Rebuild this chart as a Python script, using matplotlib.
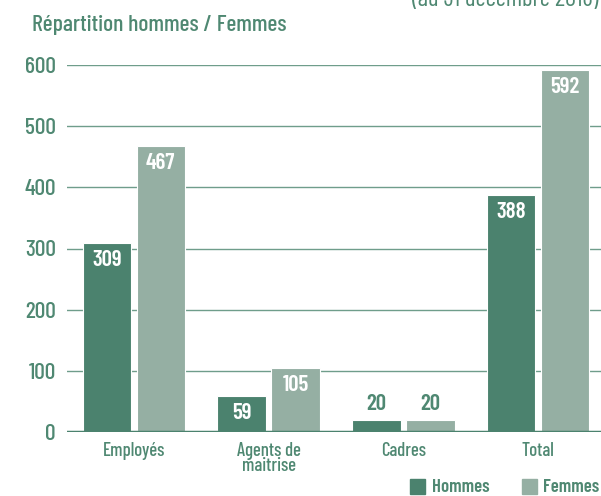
import matplotlib
matplotlib.use('Agg')
import matplotlib.pyplot as plt
from matplotlib.patches import Rectangle

# data
categories = ['Employés', 'Agents de\nmaitrise', 'Cadres', 'Total']
hommes = [309, 59, 20, 388]
femmes = [467, 105, 20, 592]
yticks = [0, 100, 200, 300, 400, 500, 600]

c_h = '#4b826e'
c_f = '#95afa3'
c_txt = '#4f8872'
c_grid = '#6f9d8b'

plt.rcParams['font.family'] = ['Barlow Condensed', 'DejaVu Sans']

fig = plt.figure(figsize=(6.01, 4.96), dpi=100)
ax = fig.add_axes([67/601, 64/496, 534/601, 367/496])

x = range(len(categories))
w = 0.36
xh = [i - 0.2 for i in x]
xf = [i + 0.2 for i in x]

for y in yticks[1:]:
    ax.axhline(y, color=c_grid, lw=1.0, zorder=1)
ax.axhline(0, color=c_h, lw=2.5, zorder=4)

ax.bar(xh, hommes, w, color=c_h, edgecolor='white', linewidth=0.8, zorder=3)
ax.bar(xf, femmes, w, color=c_f, edgecolor='white', linewidth=0.8, zorder=3)

# value labels
for xs, vals in ((xh, hommes), (xf, femmes)):
    for xi, v in zip(xs, vals):
        if v < 40:
            ax.annotate(str(v), (xi, v), xytext=(0, 4), textcoords='offset points',
                        ha='center', va='bottom', color=c_txt, fontsize=16.5,
                        fontweight=600, zorder=5)
        else:
            ax.annotate(str(v), (xi, v), xytext=(0, -5), textcoords='offset points',
                        ha='center', va='top', color='white', fontsize=16.5,
                        fontweight=600, zorder=5)

ax.set_xlim(-0.496, 3.467)
ax.set_ylim(0, 600)
ax.set_yticks(yticks)
ax.set_yticklabels([str(t) for t in yticks], fontsize=17, fontweight=500, color=c_txt)
ax.set_xticks(list(x))
ax.set_xticklabels(categories, fontsize=13.5, fontweight=500, color=c_txt,
                   linespacing=0.8, va='top')
ax.tick_params(axis='both', length=0)
ax.tick_params(axis='y', pad=8)
ax.tick_params(axis='x', pad=7)
for s in ax.spines.values():
    s.set_visible(False)

# title and cut-off subtitle
fig.text(32/601, 1 - 31/496, 'Répartition hommes / Femmes', fontsize=17,
         fontweight=500, color=c_txt, ha='left', va='baseline')
fig.text(598/601, 1 - 6/496, '(au 31 décembre 2018)', fontsize=18,
         color=c_txt, ha='right', va='baseline')

# legend
fig.patches.append(Rectangle((410/601, 2/496), 15/601, 15/496, color=c_h,
                             transform=fig.transFigure, figure=fig))
fig.text(432/601, 9/496, 'Hommes', fontsize=13.5, fontweight=600, color=c_txt, va='center')
fig.patches.append(Rectangle((522/601, 2/496), 15/601, 15/496, color=c_f,
                             transform=fig.transFigure, figure=fig))
fig.text(543/601, 9/496, 'Femmes', fontsize=13.5, fontweight=600, color=c_txt, va='center')

fig.savefig('out.png', dpi=100)
